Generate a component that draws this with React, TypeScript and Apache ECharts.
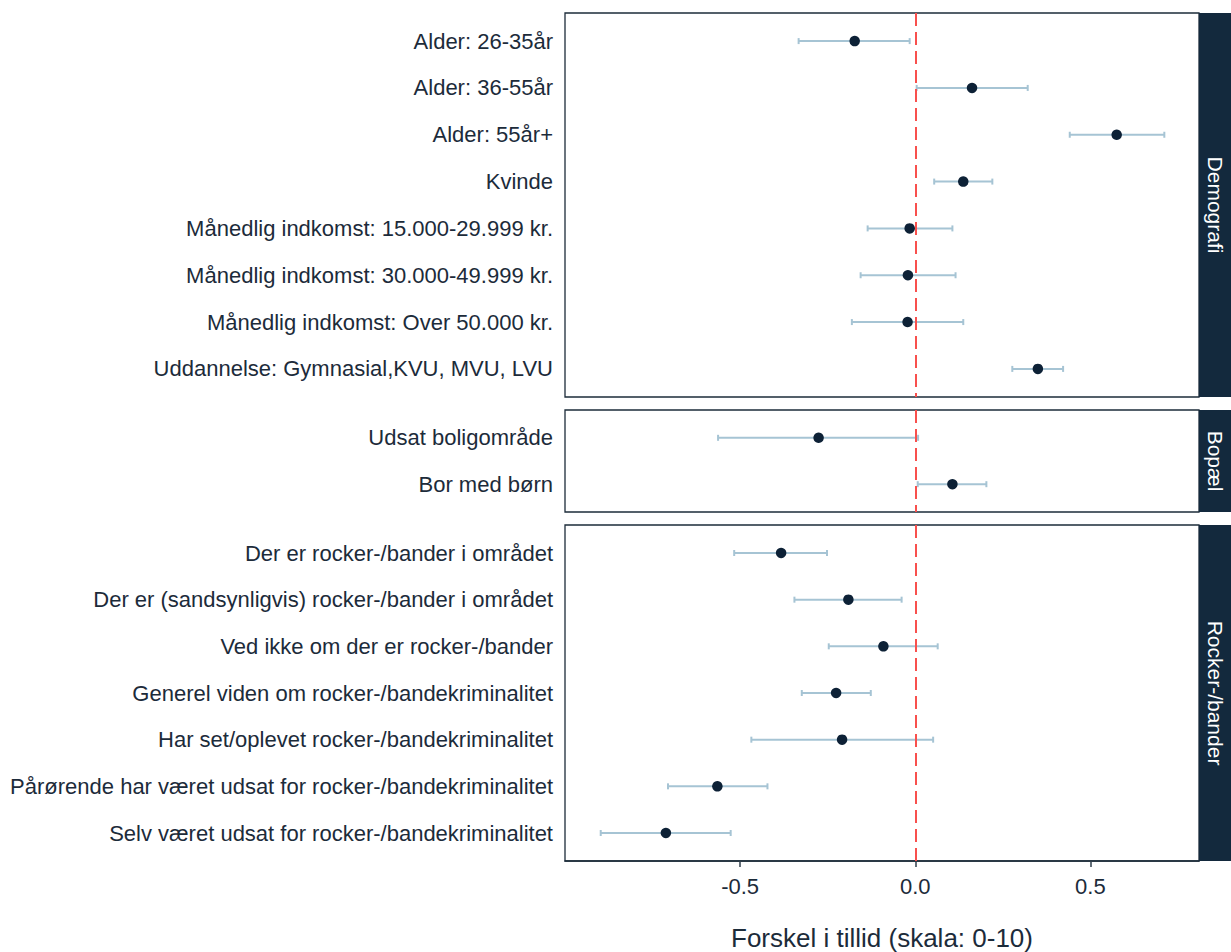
import React, { useEffect, useRef } from "react";
import * as echarts from "echarts";

// ---- Data ----
const demoCats = [
  "Alder: 26-35år",
  "Alder: 36-55år",
  "Alder: 55år+",
  "Kvinde",
  "Månedlig indkomst: 15.000-29.999 kr.",
  "Månedlig indkomst: 30.000-49.999 kr.",
  "Månedlig indkomst: Over 50.000 kr.",
  "Uddannelse: Gymnasial,KVU, MVU, LVU",
];
const demoEst = [-0.173, 0.162, 0.575, 0.137, -0.016, -0.021, -0.022, 0.35];
const demoLow = [-0.333, 0.004, 0.441, 0.054, -0.136, -0.156, -0.181, 0.277];
const demoHigh = [-0.016, 0.321, 0.711, 0.22, 0.106, 0.115, 0.137, 0.422];

const bopaelCats = ["Udsat boligområde", "Bor med børn"];
const bopaelEst = [-0.276, 0.106];
const bopaelLow = [-0.563, 0.007];
const bopaelHigh = [0.008, 0.203];

const rockerCats = [
  "Der er rocker-/bander i området",
  "Der er (sandsynligvis) rocker-/bander i området",
  "Ved ikke om der er rocker-/bander",
  "Generel viden om rocker-/bandekriminalitet",
  "Har set/oplevet rocker-/bandekriminalitet",
  "Pårørende har været udsat for rocker-/bandekriminalitet",
  "Selv været udsat for rocker-/bandekriminalitet",
];
const rockerEst = [-0.383, -0.191, -0.091, -0.226, -0.209, -0.565, -0.712];
const rockerLow = [-0.517, -0.345, -0.247, -0.324, -0.468, -0.706, -0.898];
const rockerHigh = [-0.252, -0.039, 0.064, -0.127, 0.051, -0.422, -0.527];

const stripLabels = ["Demografi", "Bopæl", "Rocker-/bander"];
const xTicks = [-0.5, 0, 0.5];
const xTitle = "Forskel i tillid (skala: 0-10)";

const FONT = '"Liberation Sans", Arial, sans-serif';
const TEXT = "#1c2b3a";
const NAVY = "#13293d";
const FRAME = "#1d2c3a";
const ERR = "#a6c4d4";
const RED = "#f8504d";

export default function App() {
  const ref = useRef<HTMLDivElement>(null);
  useEffect(() => {
    if (!ref.current) return;
    const chart = echarts.init(ref.current, null, { renderer: "svg" });

    const panels = [
      { cats: demoCats, est: demoEst, low: demoLow, high: demoHigh, top: 13, height: 384 },
      { cats: bopaelCats, est: bopaelEst, low: bopaelLow, high: bopaelHigh, top: 410, height: 102 },
      { cats: rockerCats, est: rockerEst, low: rockerLow, high: rockerHigh, top: 525, height: 336 },
    ];
    const left = 565;
    const width = 634;

    const grid: any[] = [];
    const xAxis: any[] = [];
    const yAxis: any[] = [];
    const series: any[] = [];
    const graphic: any[] = [];

    panels.forEach((p, i) => {
      const n = p.cats.length;
      const isBottom = i === panels.length - 1;
      grid.push({
        left,
        top: p.top,
        width,
        height: p.height,
        show: true,
        borderColor: FRAME,
        borderWidth: 1.3,
        backgroundColor: "#fff",
      });
      xAxis.push({
        type: "value",
        gridIndex: i,
        position: "bottom",
        min: -1.0,
        max: 0.81,
        axisLine: { show: isBottom, onZero: false, lineStyle: { color: FRAME, width: 1.5 } },
        splitLine: { show: false },
        axisTick: {
          show: isBottom,
          customValues: xTicks,
          length: 6,
          lineStyle: { color: "#2f3e4b", width: 1.5 },
        },
        axisLabel: {
          show: isBottom,
          customValues: xTicks,
          formatter: (v: number) => v.toFixed(1),
          fontSize: 22,
          fontFamily: FONT,
          color: TEXT,
          margin: 14,
        },
      });
      yAxis.push({
        type: "value",
        gridIndex: i,
        inverse: true,
        min: -0.6,
        max: n - 0.4,
        axisLine: { show: false, onZero: false },
        axisTick: { show: false },
        splitLine: { show: false },
        axisLabel: {
          customValues: p.cats.map((_, k) => k),
          formatter: (v: number) => p.cats[Math.round(v)] ?? "",
          fontSize: 22,
          fontFamily: FONT,
          color: TEXT,
          margin: 12,
        },
      });
      series.push({
        type: "custom",
        xAxisIndex: i,
        yAxisIndex: i,
        z: 2,
        data: p.low.map((l, k) => [l, p.high[k], k]),
        encode: { x: [0, 1], y: 2 },
        renderItem: (params: any, api: any) => {
          const lo = api.coord([api.value(0), api.value(2)]);
          const hi = api.coord([api.value(1), api.value(2)]);
          const h = 3;
          const st = { stroke: ERR, lineWidth: 2 };
          return {
            type: "group",
            children: [
              { type: "line", shape: { x1: lo[0], y1: lo[1], x2: hi[0], y2: hi[1] }, style: st },
              { type: "line", shape: { x1: lo[0], y1: lo[1] - h, x2: lo[0], y2: lo[1] + h }, style: st },
              { type: "line", shape: { x1: hi[0], y1: hi[1] - h, x2: hi[0], y2: hi[1] + h }, style: st },
            ],
          };
        },
        markLine: {
          silent: true,
          symbol: ["none", "none"],
          label: { show: false },
          lineStyle: { color: RED, width: 2, type: [13, 6] },
          data: [{ xAxis: 0 }],
        },
      });
      series.push({
        type: "scatter",
        xAxisIndex: i,
        yAxisIndex: i,
        z: 5,
        symbolSize: 10.5,
        itemStyle: { color: "#0d2136", opacity: 1 },
        data: p.est.map((e, k) => [e, k]),
      });
      graphic.push({
        type: "rect",
        shape: { x: left + width, y: p.top, width: 32, height: p.height },
        style: { fill: NAVY },
      });
      graphic.push({
        type: "text",
        x: left + width + 16,
        y: p.top + p.height / 2,
        rotation: -Math.PI / 2,
        style: {
          text: stripLabels[i],
          fill: "#ffffff",
          font: `21px ${FONT}`,
          textAlign: "center",
          textVerticalAlign: "middle",
        },
      });
    });

    graphic.push({
      type: "text",
      x: left + width / 2,
      y: 938,
      style: {
        text: xTitle,
        fill: TEXT,
        font: `26px ${FONT}`,
        textAlign: "center",
        textVerticalAlign: "middle",
      },
    });

    chart.setOption({
      animation: false,
      backgroundColor: "#fff",
      grid,
      xAxis,
      yAxis,
      series,
      graphic,
    });
    return () => chart.dispose();
  }, []);

  return (
    <div
      ref={ref}
      style={{ position: "fixed", left: 0, top: 0, width: 1231, height: 952 }}
    />
  );
}
